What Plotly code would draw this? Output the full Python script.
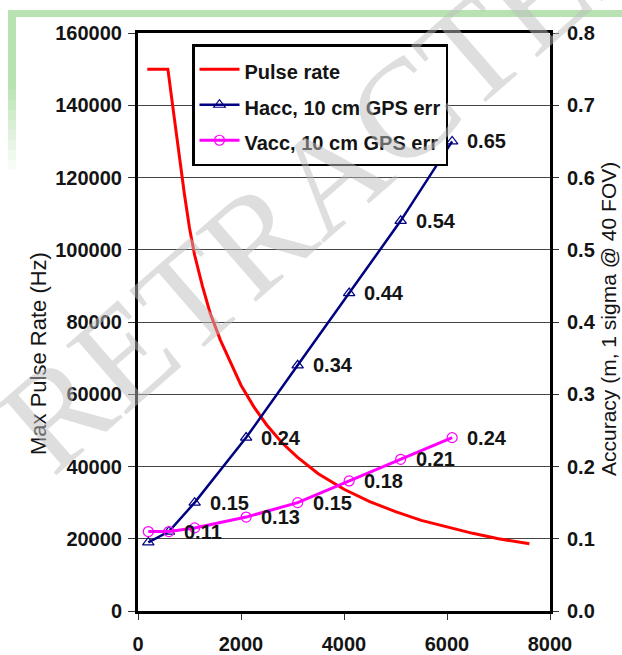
import plotly.graph_objects as go

# Flying height (m) vs. maximum pulse rate (Hz)
pulse_alt = [180, 580, 700, 800, 900, 1000, 1100, 1250, 1400, 1600, 1800, 2000,
             2250, 2500, 2800, 3100, 3500, 4000, 4500, 5000, 5500, 6000, 6500,
             7000, 7600]
pulse_rate = [150000, 150000, 137000, 125500, 115500, 106000, 98500, 90000,
              82500, 75000, 68500, 62500, 56500, 51500, 46500, 42500, 38000,
              33700, 30300, 27500, 25100, 23200, 21500, 20000, 18600]

# Accuracy (m, 1 sigma) at 40 deg FOV with 10 cm GPS error
acc_alt = [200, 600, 1100, 2100, 3100, 4100, 5100, 6100]
hacc = [0.095, 0.11, 0.15, 0.24, 0.34, 0.44, 0.54, 0.65]
vacc = [0.11, 0.11, 0.115, 0.13, 0.15, 0.18, 0.21, 0.24]
hacc_labelled = [False, True, True, True, True, True, True, True]
vacc_labelled = [False, False, False, True, True, True, True, True]

FONT = "Liberation Sans, Arial, sans-serif"
INK = "#141414"
LBL = dict(family=FONT, size=20, color=INK, weight="bold")


def entry(name):
    # legend rows are spaced by the (larger) legend font; text drawn at 20px
    return f"<span style='font-size:20px'>{name}</span>"


fig = go.Figure()
fig.add_trace(go.Scatter(
    x=pulse_alt, y=pulse_rate, name=entry("Pulse rate"), mode="lines",
    line=dict(color="#ff0000", width=3)))
fig.add_trace(go.Scatter(
    x=acc_alt, y=hacc, name=entry("Hacc, 10 cm GPS err"), yaxis="y2",
    mode="lines+markers",
    line=dict(color="#000080", width=2.5),
    marker=dict(symbol="triangle-up-open", size=10, color="#000080",
                line=dict(width=1.2))))
fig.add_trace(go.Scatter(
    x=acc_alt, y=vacc, name=entry("Vacc, 10 cm GPS err"), yaxis="y2",
    mode="lines+markers",
    line=dict(color="#ff00ff", width=3),
    marker=dict(symbol="circle-open", size=10, color="#ff00ff",
                line=dict(width=1.2))))

W, H = 622, 655
ML, MR, MT, MB = 138, 72, 33, 44


def px(x):
    return (x - ML) / (W - ML - MR)


def py(y):
    return (H - MB - y) / (H - MT - MB)


# value labels next to the accuracy points
annotations = []
for xs, ys, flags in ((acc_alt, hacc, hacc_labelled), (acc_alt, vacc, vacc_labelled)):
    for xv, yv, show in zip(xs, ys, flags):
        if show:
            annotations.append(dict(x=xv, y=yv, xref="x", yref="y2",
                                    text=f"{yv:.2f}", showarrow=False,
                                    xanchor="left", yanchor="middle",
                                    xshift=13, font=LBL))

# axis titles
annotations.append(dict(text="Max Pulse Rate (Hz)", xref="paper", yref="paper",
                        x=px(38), y=py(354), showarrow=False, textangle=-90,
                        xanchor="center", yanchor="middle",
                        font=dict(family=FONT, size=22, color=INK)))
annotations.append(dict(text="Accuracy (m, 1 sigma @ 40 FOV)", xref="paper",
                        yref="paper", x=px(608), y=py(319), showarrow=False,
                        textangle=-90, xanchor="center", yanchor="middle",
                        font=dict(family=FONT, size=21, color=INK)))

# diagonal watermark
annotations.append(dict(text="RETRACTED", xref="paper", yref="paper",
                        x=px(332), y=py(172), xanchor="center", yanchor="middle",
                        showarrow=False, textangle=-41,
                        font=dict(family="Liberation Serif, Times New Roman, serif",
                                  size=140, color="rgba(190,190,190,0.5)")))

# light green page frame (top rule and fading left rule)
shapes = [dict(type="rect", xref="paper", yref="paper", layer="below",
               x0=px(8), x1=px(622), y0=py(17), y1=py(10),
               fillcolor="#b9e2b2", line_width=0)]
for i in range(16):
    top = 10 + i * 10
    alpha = 1.0 if i < 8 else max(0.0, 1 - (i - 7) / 9)
    shapes.append(dict(type="rect", xref="paper", yref="paper", layer="below",
                       x0=px(8), x1=px(16), y0=py(top + 10), y1=py(top),
                       fillcolor=f"rgba(185,226,178,{alpha:.2f})", line_width=0))

tick_font = dict(size=20, weight="bold", color=INK)
fig.update_layout(
    width=W, height=H,
    margin=dict(l=ML, r=MR, t=MT, b=MB),
    paper_bgcolor="white", plot_bgcolor="white",
    font=dict(family=FONT, color=INK),
    shapes=shapes,
    annotations=annotations,
    xaxis=dict(range=[0, 8000], dtick=2000, showgrid=False, zeroline=False,
               showline=True, linecolor="black", linewidth=3, mirror=True,
               ticks="outside", ticklen=6, tickcolor="#333", tickwidth=1,
               tickfont=tick_font, ticklabelstandoff=7, automargin=False),
    yaxis=dict(range=[0, 160000], dtick=20000, tickformat="d",
               showgrid=True, gridcolor="#444444", gridwidth=1.2,
               zeroline=False, showline=True, linecolor="black", linewidth=3,
               mirror=True, ticks="outside", ticklen=7, tickcolor="#333",
               tickfont=tick_font, ticklabelstandoff=2, automargin=False),
    yaxis2=dict(range=[0, 0.8], dtick=0.1, tickformat=".1f", overlaying="y",
                side="right", showgrid=False, zeroline=False, showline=True,
                linecolor="black", linewidth=3, ticks="outside", ticklen=6,
                tickcolor="#333", tickfont=tick_font, ticklabelstandoff=4,
                automargin=False),
    legend=dict(x=px(192), y=py(44), xanchor="left", yanchor="top",
                bgcolor="white", bordercolor="black", borderwidth=2.5,
                font=dict(size=25, weight="bold", color=INK), itemwidth=40,
                traceorder="normal"),
)

fig.write_html("out.html")
